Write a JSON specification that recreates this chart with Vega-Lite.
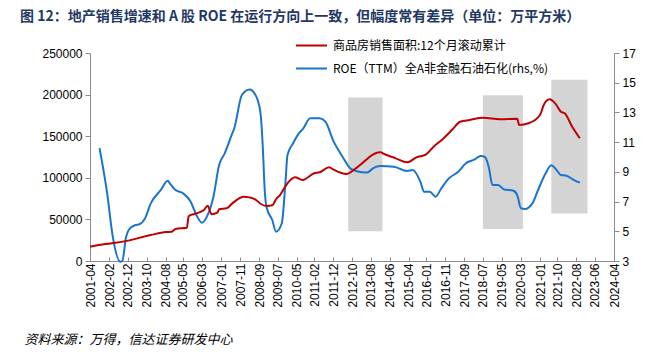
{
  "$schema": "https://vega.github.io/schema/vega-lite/v6.json",
  "autosize": "none",
  "width": 524,
  "height": 208,
  "padding": {"left": 90, "top": 53, "right": 58, "bottom": 97},
  "background": "white",
  "title": {
    "text": "图 12：地产销售增速和 A 股 ROE 在运行方向上一致，但幅度常有差异（单位：万平方米）",
    "anchor": "start",
    "frame": "group",
    "dx": -70,
    "offset": 5,
    "font": "Noto Sans CJK SC",
    "fontSize": 14,
    "fontWeight": "bold",
    "color": "#1F3864"
  },
  "config": {
    "view": {"stroke": null},
    "axis": {
      "labelFont": "Liberation Sans",
      "labelFontSize": 12,
      "labelColor": "#000000",
      "domainColor": "#8c8c8c",
      "tickColor": "#8c8c8c",
      "grid": false,
      "labelOverlap": false
    }
  },
  "datasets": {
    "red": [
      {"d": "2001-04", "v": 17200}, {"d": "2001-12", "v": 20400}, {"d": "2002-10", "v": 23600},
      {"d": "2003-12", "v": 31200}, {"d": "2004-08", "v": 34800}, {"d": "2004-11", "v": 35200},
      {"d": "2005-01", "v": 38500}, {"d": "2005-07", "v": 40000}, {"d": "2005-08", "v": 54000},
      {"d": "2005-11", "v": 56500}, {"d": "2006-04", "v": 61300}, {"d": "2006-06", "v": 66500},
      {"d": "2006-08", "v": 56100}, {"d": "2006-11", "v": 58000}, {"d": "2006-12", "v": 62100},
      {"d": "2007-04", "v": 63300}, {"d": "2007-07", "v": 69300}, {"d": "2008-01", "v": 77300},
      {"d": "2008-04", "v": 76500}, {"d": "2008-07", "v": 74200}, {"d": "2008-10", "v": 68500},
      {"d": "2009-01", "v": 66100}, {"d": "2009-04", "v": 66900}, {"d": "2009-06", "v": 74200},
      {"d": "2009-08", "v": 79000}, {"d": "2009-12", "v": 93400}, {"d": "2010-04", "v": 100600},
      {"d": "2010-08", "v": 97400}, {"d": "2011-02", "v": 105400}, {"d": "2011-05", "v": 106600},
      {"d": "2011-10", "v": 112600}, {"d": "2011-12", "v": 110200}, {"d": "2012-07", "v": 104600},
      {"d": "2012-12", "v": 111400}, {"d": "2013-06", "v": 122600}, {"d": "2013-07", "v": 124600},
      {"d": "2014-01", "v": 130600}, {"d": "2014-03", "v": 128600}, {"d": "2014-09", "v": 123400},
      {"d": "2015-03", "v": 118600}, {"d": "2015-08", "v": 124600}, {"d": "2016-01", "v": 128200},
      {"d": "2016-05", "v": 137400}, {"d": "2016-10", "v": 147000}, {"d": "2017-03", "v": 158300},
      {"d": "2017-07", "v": 167400}, {"d": "2017-12", "v": 169500}, {"d": "2018-07", "v": 172200},
      {"d": "2019-04", "v": 170300}, {"d": "2020-01", "v": 171000}, {"d": "2020-02", "v": 163500},
      {"d": "2020-07", "v": 165500}, {"d": "2021-01", "v": 175500}, {"d": "2021-03", "v": 187500},
      {"d": "2021-06", "v": 194300}, {"d": "2021-09", "v": 189500}, {"d": "2021-12", "v": 179500},
      {"d": "2022-02", "v": 177500}, {"d": "2022-06", "v": 161400}, {"d": "2022-10", "v": 147500}
    ],
    "blue": [
      {"d": "2001-09", "v": 10.6}, {"d": "2002-01", "v": 7.56}, {"d": "2002-04", "v": 4.64},
      {"d": "2002-08", "v": 2.95}, {"d": "2002-09", "v": 3.0}, {"d": "2002-11", "v": 4.64},
      {"d": "2003-01", "v": 5.2}, {"d": "2003-04", "v": 5.42}, {"d": "2003-06", "v": 5.47},
      {"d": "2003-09", "v": 5.87}, {"d": "2003-12", "v": 6.88}, {"d": "2004-05", "v": 7.73},
      {"d": "2004-09", "v": 8.4}, {"d": "2004-10", "v": 8.23}, {"d": "2005-01", "v": 7.78},
      {"d": "2005-05", "v": 7.56}, {"d": "2005-09", "v": 6.99}, {"d": "2005-12", "v": 6.1},
      {"d": "2006-03", "v": 5.58}, {"d": "2006-06", "v": 6.1}, {"d": "2006-09", "v": 7.33},
      {"d": "2006-12", "v": 9.46}, {"d": "2007-03", "v": 10.25}, {"d": "2007-07", "v": 11.6},
      {"d": "2007-08", "v": 11.93}, {"d": "2007-12", "v": 14.17}, {"d": "2008-04", "v": 14.55},
      {"d": "2008-08", "v": 13.95}, {"d": "2008-10", "v": 12.71}, {"d": "2008-11", "v": 10.6},
      {"d": "2008-12", "v": 7.78}, {"d": "2009-01", "v": 6.6}, {"d": "2009-04", "v": 5.76},
      {"d": "2009-06", "v": 4.97}, {"d": "2009-09", "v": 5.54}, {"d": "2009-11", "v": 8.45},
      {"d": "2009-12", "v": 10.13}, {"d": "2010-03", "v": 10.92}, {"d": "2010-06", "v": 11.59},
      {"d": "2010-08", "v": 11.86}, {"d": "2010-12", "v": 12.6}, {"d": "2011-05", "v": 12.6},
      {"d": "2011-08", "v": 12.38}, {"d": "2011-12", "v": 11.14}, {"d": "2012-05", "v": 10.02},
      {"d": "2012-09", "v": 9.24}, {"d": "2012-12", "v": 9.06}, {"d": "2013-06", "v": 8.95},
      {"d": "2013-09", "v": 9.24}, {"d": "2014-01", "v": 9.39}, {"d": "2014-08", "v": 9.35},
      {"d": "2015-03", "v": 9.06}, {"d": "2015-06", "v": 9.12}, {"d": "2015-10", "v": 8.34},
      {"d": "2015-12", "v": 7.66}, {"d": "2016-03", "v": 7.66}, {"d": "2016-06", "v": 7.33},
      {"d": "2016-09", "v": 7.89}, {"d": "2017-01", "v": 8.56}, {"d": "2017-06", "v": 9.01},
      {"d": "2017-10", "v": 9.58}, {"d": "2018-02", "v": 9.8}, {"d": "2018-06", "v": 10.07},
      {"d": "2018-08", "v": 10.0}, {"d": "2018-10", "v": 9.35}, {"d": "2018-12", "v": 8.12},
      {"d": "2019-03", "v": 8.12}, {"d": "2019-06", "v": 7.82}, {"d": "2019-11", "v": 7.73},
      {"d": "2020-01", "v": 7.44}, {"d": "2020-03", "v": 6.55}, {"d": "2020-05", "v": 6.5},
      {"d": "2020-09", "v": 6.88}, {"d": "2020-12", "v": 7.78}, {"d": "2021-04", "v": 8.9},
      {"d": "2021-07", "v": 9.44}, {"d": "2021-10", "v": 9.08}, {"d": "2021-12", "v": 8.79},
      {"d": "2022-03", "v": 8.74}, {"d": "2022-07", "v": 8.45}, {"d": "2022-10", "v": 8.27}
    ],
    "shade": [
      {"d": "2012-08", "d2": "2014-02", "lo": 5.0, "hi": 14.0},
      {"d": "2018-07", "d2": "2020-04", "lo": 5.15, "hi": 14.15},
      {"d": "2021-07", "d2": "2023-02", "lo": 6.2, "hi": 15.2}
    ]
  },
  "encoding": {
    "x": {
      "field": "d",
      "type": "temporal",
      "scale": {
        "type": "utc",
        "domain": [
          {"year": 2001, "month": 4, "date": 1, "utc": true},
          {"year": 2024, "month": 4, "date": 1, "utc": true}
        ]
      },
      "axis": {
        "values": [
          {"year": 2001, "month": 4, "date": 1, "utc": true},
          {"year": 2002, "month": 2, "date": 1, "utc": true},
          {"year": 2002, "month": 12, "date": 1, "utc": true},
          {"year": 2003, "month": 10, "date": 1, "utc": true},
          {"year": 2004, "month": 8, "date": 1, "utc": true},
          {"year": 2005, "month": 5, "date": 1, "utc": true},
          {"year": 2006, "month": 3, "date": 1, "utc": true},
          {"year": 2007, "month": 1, "date": 1, "utc": true},
          {"year": 2007, "month": 11, "date": 1, "utc": true},
          {"year": 2008, "month": 9, "date": 1, "utc": true},
          {"year": 2009, "month": 7, "date": 1, "utc": true},
          {"year": 2010, "month": 5, "date": 1, "utc": true},
          {"year": 2011, "month": 2, "date": 1, "utc": true},
          {"year": 2011, "month": 12, "date": 1, "utc": true},
          {"year": 2012, "month": 10, "date": 1, "utc": true},
          {"year": 2013, "month": 8, "date": 1, "utc": true},
          {"year": 2014, "month": 6, "date": 1, "utc": true},
          {"year": 2015, "month": 4, "date": 1, "utc": true},
          {"year": 2016, "month": 1, "date": 1, "utc": true},
          {"year": 2016, "month": 11, "date": 1, "utc": true},
          {"year": 2017, "month": 9, "date": 1, "utc": true},
          {"year": 2018, "month": 7, "date": 1, "utc": true},
          {"year": 2019, "month": 5, "date": 1, "utc": true},
          {"year": 2020, "month": 3, "date": 1, "utc": true},
          {"year": 2021, "month": 1, "date": 1, "utc": true},
          {"year": 2021, "month": 10, "date": 1, "utc": true},
          {"year": 2022, "month": 8, "date": 1, "utc": true},
          {"year": 2023, "month": 6, "date": 1, "utc": true},
          {"year": 2024, "month": 4, "date": 1, "utc": true}
        ],
        "format": "%Y-%m",
        "labelAngle": 270,
        "labelAlign": "right",
        "labelBaseline": "middle",
        "labelOverlap": false,
        "labelFlush": false,
        "tickSize": -4,
        "labelPadding": 6,
        "title": "资料来源：万得，信达证券研发中心",
        "titleFont": "Noto Sans CJK SC",
        "titleFontSize": 13,
        "titleFontStyle": "italic",
        "titleFontWeight": "normal",
        "titleColor": "#000000",
        "titleAnchor": "start",
        "titleAlign": "left",
        "titleBaseline": "middle",
        "titleX": -66,
        "titleY": 78
      }
    }
  },
  "layer": [
    {
      "layer": [
        {
          "data": {"name": "shade"},
          "mark": {"type": "rect", "color": "#d4d4d4"},
          "encoding": {
            "x2": {"field": "d2"},
            "y": {
              "field": "lo",
              "type": "quantitative",
              "scale": {"domain": [3, 17], "nice": false, "zero": false},
              "axis": {
                "orient": "right",
                "values": [3, 5, 7, 9, 11, 13, 15, 17],
                "title": null,
                "tickSize": 5,
                "labelPadding": 3,
                "labelOverlap": false,
                "labelBound": false
              }
            },
            "y2": {"field": "hi"}
          }
        },
        {
          "data": {"name": "blue"},
          "mark": {"type": "line", "strokeWidth": 2, "interpolate": "monotone"},
          "encoding": {
            "y": {
              "field": "v",
              "type": "quantitative",
              "scale": {"domain": [3, 17], "nice": false, "zero": false},
              "axis": {
                "orient": "right",
                "values": [3, 5, 7, 9, 11, 13, 15, 17],
                "title": null,
                "tickSize": 5,
                "labelPadding": 3,
                "labelOverlap": false,
                "labelBound": false
              }
            },
            "color": {"datum": "ROE（TTM）全A非金融石油石化(rhs,%)"}
          }
        }
      ]
    },
    {
      "data": {"name": "red"},
      "mark": {"type": "line", "strokeWidth": 2, "interpolate": "monotone"},
      "encoding": {
        "y": {
          "field": "v",
          "type": "quantitative",
          "scale": {"domain": [0, 250000], "nice": false},
          "axis": {
            "orient": "left",
            "values": [0, 50000, 100000, 150000, 200000, 250000],
            "format": "d",
            "title": null,
            "tickSize": 5,
            "labelPadding": 3,
            "labelOverlap": false
          }
        },
        "color": {
          "datum": "商品房销售面积:12个月滚动累计",
          "scale": {
            "domain": ["商品房销售面积:12个月滚动累计", "ROE（TTM）全A非金融石油石化(rhs,%)"],
            "range": ["#C00000", "#1874CD"]
          },
          "legend": {
            "title": null,
            "orient": "none",
            "legendX": 205,
            "legendY": -24,
            "symbolType": "stroke",
            "symbolSize": 961,
            "symbolStrokeWidth": 2,
            "labelFont": "Noto Sans CJK SC",
            "labelFontSize": 12,
            "labelColor": "#000000",
            "labelOffset": 5,
            "labelLimit": 400,
            "rowPadding": -21
          }
        }
      }
    }
  ],
  "resolve": {"scale": {"y": "independent"}}
}
